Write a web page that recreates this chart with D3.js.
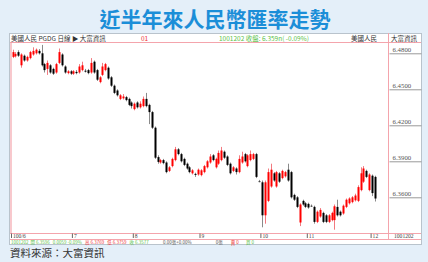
<!DOCTYPE html>
<html><head><meta charset="utf-8">
<script src="https://cdn.jsdelivr.net/npm/d3@7"></script>
<style>
html,body{margin:0;padding:0;background:#e4eff9;}
svg{display:block;}
</style></head>
<body>
<svg id="c" width="428" height="262"></svg>
<script>
// ---- data (USD/CNY daily, 2011/06/01 - 2011/12/02) ----
const open = [6.4770,6.4775,6.4810,6.4700,6.4780,6.4740,6.4760,6.4790,6.4800,6.4820,6.4800,6.4710,6.4670,6.4700,6.4670,6.4640,6.4720,6.4790,6.4690,6.4635,6.4650,
6.4630,6.4645,6.4640,6.4660,6.4655,6.4660,6.4640,6.4730,6.4660,6.4560,6.4620,6.4660,6.4680,6.4600,6.4530,6.4490,6.4420,6.4425,6.4435,6.4420,6.4390,
6.4335,6.4390,6.4350,6.4360,6.4420,6.4370,6.4310,6.4180,6.3935,6.3890,6.3910,6.3890,6.3820,6.3860,6.3910,6.4000,6.3960,6.3920,6.3880,6.3850,6.3800,6.3795,6.3790,
6.3785,6.3810,6.3850,6.3890,6.3950,6.3850,6.3880,6.3910,6.3980,6.3940,6.3880,6.3820,6.3840,6.3810,6.3890,6.3960,6.3860,6.3910,6.3920,6.3960,6.3735,
6.3725,6.3450,6.3570,6.3690,6.3800,6.3690,6.3800,6.3760,6.3775,6.3830,6.3810,6.3620,6.3600,6.3390,6.3570,6.3550,
6.3545,6.3530,6.3520,6.3395,6.3440,6.3470,6.3450,6.3395,6.3410,6.3410,6.3520,6.3480,6.3465,6.3520,6.3550,6.3560,6.3575,6.3570,6.3660,6.3730,6.3820,6.3660,
6.3780,6.3770];
const close = [6.4810,6.4795,6.4780,6.4790,6.4740,6.4770,6.4810,6.4820,6.4830,6.4800,6.4700,6.4660,6.4720,6.4640,6.4630,6.4710,6.4810,6.4700,6.4640,6.4650,6.4630,
6.4650,6.4635,6.4690,6.4700,6.4650,6.4635,6.4720,6.4640,6.4580,6.4600,6.4690,6.4710,6.4590,6.4530,6.4470,6.4450,6.4450,6.4440,6.4410,6.4370,6.4360,
6.4380,6.4350,6.4380,6.4420,6.4360,6.4310,6.4180,6.3930,6.3895,6.3910,6.3885,6.3810,6.3850,6.3920,6.4000,6.3960,6.3900,6.3870,6.3840,6.3810,6.3825,6.3790,6.3830,
6.3825,6.3860,6.3900,6.3940,6.3910,6.3920,6.3970,6.3990,6.3930,6.3870,6.3800,6.3850,6.3810,6.3920,6.3940,6.3900,6.3950,6.3960,6.3960,6.3770,6.3735,
6.3450,6.3725,6.3810,6.3830,6.3740,6.3810,6.3730,6.3820,6.3810,6.3740,6.3600,6.3580,6.3520,6.3540,6.3540,6.3520,
6.3515,6.3530,6.3395,6.3480,6.3495,6.3395,6.3395,6.3450,6.3470,6.3525,6.3450,6.3450,6.3530,6.3580,6.3590,6.3600,6.3615,6.3685,6.3800,6.3840,6.3770,6.3790,
6.3635,6.3590];
const high = [6.4830,6.4810,6.4825,6.4800,6.4790,6.4780,6.4820,6.4850,6.4840,6.4835,6.4870,6.4720,6.4740,6.4710,6.4680,6.4720,6.4840,6.4800,6.4700,6.4660,6.4660,
6.4660,6.4660,6.4710,6.4730,6.4670,6.4670,6.4760,6.4740,6.4670,6.4610,6.4720,6.4720,6.4690,6.4610,6.4540,6.4500,6.4460,6.4460,6.4445,6.4430,6.4400,
6.4390,6.4400,6.4400,6.4440,6.4470,6.4380,6.4320,6.4190,6.3950,6.3920,6.3920,6.3900,6.3860,6.3930,6.4020,6.4010,6.3970,6.3930,6.3890,6.3860,6.3835,6.3805,6.3840,
6.3835,6.3870,6.3910,6.3960,6.3960,6.3930,6.3990,6.4020,6.3990,6.3950,6.3890,6.3860,6.3850,6.3950,6.3980,6.3970,6.3960,6.3990,6.3970,6.3970,6.3745,
6.3740,6.3740,6.3840,6.3880,6.3810,6.3820,6.3810,6.3830,6.3820,6.3880,6.3820,6.3630,6.3610,6.3550,6.3580,6.3560,
6.3555,6.3540,6.3530,6.3490,6.3510,6.3480,6.3460,6.3460,6.3480,6.3540,6.3580,6.3490,6.3540,6.3590,6.3600,6.3610,6.3630,6.3700,6.3850,6.3860,6.3830,6.3800,
6.3790,6.3780];
const low = [6.4760,6.4765,6.4770,6.4680,6.4730,6.4730,6.4750,6.4780,6.4790,6.4790,6.4690,6.4640,6.4620,6.4630,6.4620,6.4630,6.4710,6.4690,6.4630,6.4625,6.4620,
6.4620,6.4625,6.4630,6.4650,6.4640,6.4625,6.4630,6.4630,6.4570,6.4550,6.4610,6.4650,6.4580,6.4520,6.4460,6.4440,6.4410,6.4415,6.4400,6.4360,6.4340,
6.4325,6.4340,6.4340,6.4350,6.4350,6.4210,6.4170,6.3920,6.3880,6.3880,6.3875,6.3800,6.3810,6.3850,6.3900,6.3950,6.3890,6.3860,6.3830,6.3800,6.3790,6.3770,6.3780,
6.3775,6.3800,6.3840,6.3880,6.3900,6.3840,6.3870,6.3900,6.3920,6.3860,6.3790,6.3810,6.3790,6.3800,6.3880,6.3890,6.3850,6.3900,6.3910,6.3760,6.3725,
6.3350,6.3380,6.3560,6.3680,6.3730,6.3680,6.3720,6.3750,6.3765,6.3730,6.3590,6.3570,6.3510,6.3360,6.3530,6.3510,
6.3505,6.3520,6.3380,6.3385,6.3430,6.3385,6.3385,6.3385,6.3400,6.3330,6.3440,6.3440,6.3455,6.3510,6.3540,6.3550,6.3565,6.3560,6.3650,6.3720,6.3760,6.3650,
6.3610,6.3565];
const monthLabels = ["100/6","7","8","9","10","11","12"];
const monthStart  = [0,21,42,65,86,102,124];
const priceTicks  = [6.48,6.45,6.42,6.39,6.36];
const titleText = "近半年來人民幣匯率走勢";

// ---- drawing ----
const svg = d3.select("#c");
const n = open.length;
const x = d3.scaleLinear().domain([0, n-1]).range([12.5, 375]);
const y = d3.scaleLinear().domain([6.36, 6.48]).range([197.3, 53.3]);

svg.append("text").attr("x",215).attr("y",27).attr("text-anchor","middle")
  .attr("font-family","'Noto Sans CJK TC'").attr("font-weight","bold")
  .attr("font-size",21).attr("fill","#1b8ed8").text(titleText);

// frame
svg.append("rect").attr("x",9.5).attr("y",33.5).attr("width",412).attr("height",211)
  .attr("fill","#fff").attr("stroke","#b9c3cc");
const pink="#f4a4ac";
const ln=(x1,y1,x2,y2,c,w)=>svg.append("line").attr("x1",x1).attr("y1",y1).attr("x2",x2).attr("y2",y2).attr("stroke",c).attr("stroke-width",w||1);
ln(10,42.5,421,42.5,pink);
ln(10,233.5,421,233.5,pink);
ln(10,239.5,421,239.5,pink);
ln(11,42,11,233,pink,1.2);
ln(388.5,33,388.5,239,pink);

// header texts
const hdr = svg.append("g").attr("font-size",6.5).attr("font-family","'Noto Sans CJK TC'");
hdr.append("text").attr("x",11).attr("y",40.7).attr("fill","#333").text("美國人民 PGDG 日線 ▶ 大富資訊");
hdr.append("text").attr("x",141).attr("y",40.7).attr("fill","#e33").text("01");
hdr.append("text").attr("x",219).attr("y",40.7).attr("fill","#5cbf4a").text("1001202 收盤: 6.359n( -0.09%)");
hdr.append("text").attr("x",351).attr("y",40.7).attr("fill","#333").text("美國人民");
hdr.append("text").attr("x",391).attr("y",40.7).attr("fill","#333").text("大富資訊");

// price axis (right)
const ya = d3.axisRight(y).tickValues(priceTicks).tickSize(32).tickFormat(d3.format(".4f"));
const yg = svg.append("g").attr("transform","translate(389.5,0)").call(ya);
yg.select(".domain").remove();
yg.selectAll(".tick line").attr("stroke","#999");
yg.selectAll(".tick text").attr("x",3).attr("dy","-1.5").attr("font-size",6.8)
  .attr("font-family","'Liberation Serif'").attr("fill","#555");

// month axis (bottom)
const xa = d3.axisBottom(x).tickValues(monthStart).tickSize(4.5)
  .tickFormat((d,i)=>monthLabels[i]);
const xg = svg.append("g").attr("transform","translate(-1.5,233.5)").call(xa);
xg.select(".domain").remove();
xg.selectAll(".tick line").attr("stroke","#666");
xg.selectAll(".tick text").attr("x",1.5).attr("y",0).attr("dy","4.3").attr("text-anchor","start")
  .attr("font-size",5.6).attr("font-family","'Liberation Serif'").attr("fill","#444");
svg.append("text").attr("x",394).attr("y",237.8).attr("font-size",5.6).attr("font-family","'Liberation Serif'")
  .attr("fill","#444").text("1001202");

// status row
const st = svg.append("text").attr("x",11).attr("y",244.2).attr("font-size",4.5)
  .attr("font-family","'Noto Sans CJK TC'").attr("style","white-space:pre");
const parts = [["1001202  ","#5cbf4a"],["開 ","#5cbf4a"],["6.3596   ","#5cbf4a"],["0.0059 -0.09%   ","#5cbf4a"],
 ["高 ","#e33"],["6.3769   ","#e33"],["低 ","#e33"],["6.3759   ","#e33"],["收 ","#5cbf4a"],["6.3577              ","#5cbf4a"],
 ["0.00張+0.00%","#555"],["                        0張        ","#555"],["賣 0       ","#e33"],["買 0","#5cbf4a"]];
parts.forEach(p=>st.append("tspan").attr("fill",p[1]).text(p[0]));

// candles
const data = d3.range(n).map(i=>({i,o:open[i],c:close[i],h:high[i],l:low[i]}));
const g = svg.append("g");
g.selectAll("line.w").data(data).join("line")
  .attr("x1",d=>Math.round(x(d.i))+0.5).attr("x2",d=>Math.round(x(d.i))+0.5)
  .attr("y1",d=>y(d.h)).attr("y2",d=>y(d.l))
  .attr("stroke",d=>d.c>d.o?"#f27a80":"#8a8a8a").attr("stroke-width",1);
g.selectAll("rect.b").data(data).join("rect")
  .attr("x",d=>Math.round(x(d.i))-0.5).attr("width",2)
  .attr("y",d=>y(Math.max(d.o,d.c)))
  .attr("height",d=>Math.max(1,Math.abs(y(d.o)-y(d.c))))
  .attr("fill",d=>d.c>d.o?"#f00":(d.c<d.o?"#000":"#444"));

// source
svg.append("text").attr("x",10).attr("y",256.5).attr("font-size",10.5)
  .attr("font-family","'Noto Sans CJK TC'").attr("fill","#333").text("資料來源：大富資訊");
</script>
</body></html>
